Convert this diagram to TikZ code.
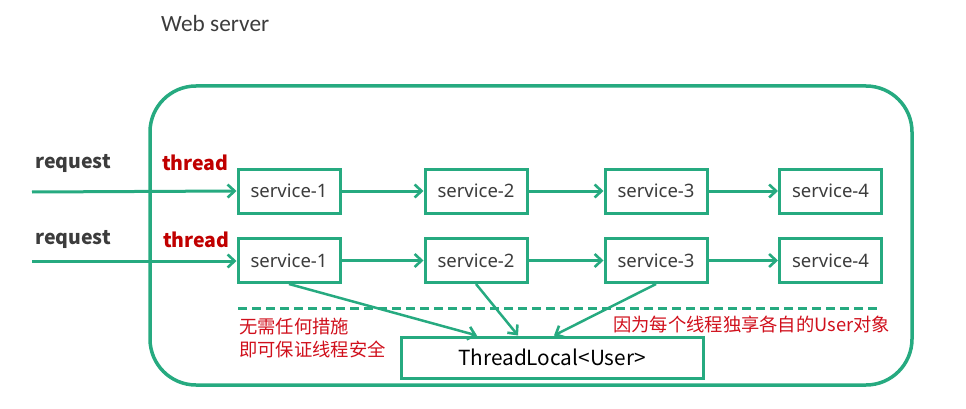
\documentclass[tikz,border=0pt]{standalone}
\usepackage{fontspec}
\setmainfont{Noto Sans}
\newfontfamily\cjk{Noto Sans CJK SC}
\newfontfamily\carl{Carlito}
\usetikzlibrary{arrows.meta,shadows,calc}
\definecolor{grn}{RGB}{38,170,128}
\definecolor{dred}{RGB}{192,0,0}
\definecolor{cred}{RGB}{208,16,28}
\definecolor{txt}{RGB}{60,60,60}
\begin{document}
\begin{tikzpicture}[x=1pt,y=-1pt,
  svc/.style={draw=grn,line width=3pt,fill=white,minimum width=102pt,minimum height=44pt,inner sep=0pt,
    font=\fontsize{18.5}{20}\selectfont,text=txt,
    drop shadow={shadow xshift=1.5pt,shadow yshift=-1.5pt,opacity=0.3,fill=gray}},
  conn/.style={draw=grn,line width=3pt,-{Straight Barb[length=7pt,width=13pt,line width=2.6pt]}},
  lbl/.style={anchor=west,inner sep=0pt,font=\cjk\bfseries\fontsize{19.5}{22}\selectfont},
  note/.style={anchor=west,inner sep=0pt,align=left,text=cred,font=\cjk\fontsize{18.3}{23}\selectfont}]
\useasboundingbox (0,0) rectangle (966,409);
% outer frame
\draw[grn,line width=3.5pt,rounded corners=46pt] (150,86) rectangle (912,385);
\node[anchor=west,inner sep=0pt,text=txt,font=\carl\fontsize{23.3}{26}\selectfont] (ws) at (161,23) {Web server};
% labels
\node[lbl,text=txt] (rq1) at (35,163) {request};
\node[lbl,text=dred] (th1) at (162,163) {thread};
\node[lbl,text=txt] (rq2) at (35,239) {request};
\node[lbl,text=dred] (th2) at (163,240) {thread};
% service boxes
\node[svc] (s11) at (289,191) {service-1};
\node[svc] (s12) at (476,191) {service-2};
\node[svc] (s13) at (656,191) {service-3};
\node[svc] (s14) at (830.5,191) {service-4};
\node[svc] (s21) at (289,260.5) {service-1};
\node[svc] (s22) at (476,260.5) {service-2};
\node[svc] (s23) at (656,260.5) {service-3};
\node[svc] (s24) at (830.5,260.5) {service-4};
\node[svc,minimum width=302pt,minimum height=41pt,text=black,font=\cjk\fontsize{20.8}{22}\selectfont] (tl) at (552,357.5) {ThreadLocal<User>};
% request inputs
\coordinate (in1) at (32,192);
\coordinate (in2) at (32,261);
\draw[conn] (in1) -- (s11.west);
\draw[conn] (in2) -- (in2 -| s21.west);
\draw[conn] (s11) -- (s12);
\draw[conn] (s12) -- (s13);
\draw[conn] (s13) -- (s14);
\draw[conn] (s21) -- (s22);
\draw[conn] (s22) -- (s23);
\draw[conn] (s23) -- (s24);
% dashed separator
\coordinate (d1) at (238,308);
\coordinate (d2) at (880,308);
\draw[grn,line width=3pt,dash pattern=on 9pt off 5pt] (d1) -- (d2);
% arrows into ThreadLocal
\draw[conn,line width=2.5pt] (s21.south) -- ([xshift=-75pt]tl.north);
\draw[conn,line width=2.5pt] (s22.south) -- ([xshift=-34pt]tl.north);
\draw[conn,line width=2.5pt] (s23.south) -- ([xshift=2pt]tl.north);
% notes
\node[note] (n1) at (239,338.5) {无需任何措施\\即可保证线程安全};
\node[note] (n2) at (613,325) {因为每个线程独享各自的User对象};
\end{tikzpicture}
\end{document}
